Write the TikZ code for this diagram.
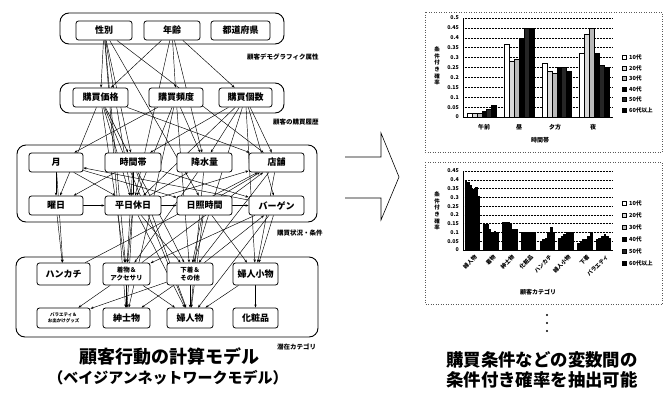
\documentclass[tikz,border=0pt]{standalone}
\usepackage{fontspec}
\setmainfont{Noto Sans CJK JP}
\usetikzlibrary{arrows.meta}
\pgfdeclarelayer{bg}
\pgfdeclarelayer{edges}
\pgfsetlayers{bg,edges,main}
\begin{document}
\begin{tikzpicture}[x=1pt,y=-1pt,
  grp/.style={draw, rounded corners=9pt, line width=0.9pt},
  nd/.style={draw, rounded corners=2.5pt, line width=0.8pt, fill=white,
    minimum width=55pt, minimum height=19pt, inner sep=0.5pt, align=center,
    font=\bfseries\fontsize{9}{10}\selectfont},
  ed/.style={-{Stealth[length=3.2pt,width=2.4pt]}, line width=0.45pt},
  glabel/.style={anchor=west, inner sep=0pt, font=\bfseries\fontsize{6.5}{7}\selectfont},
  tick/.style={anchor=east, inner sep=0pt, font=\bfseries\fontsize{5.3}{6}\selectfont},
  cat/.style={inner sep=0pt, font=\bfseries\fontsize{6}{7}\selectfont},
  leg/.style={anchor=west, inner sep=0pt, font=\bfseries\fontsize{5.6}{6}\selectfont},
  grid/.style={densely dotted, line width=0.5pt},
  frame/.style={dotted, line width=0.5pt, gray!70!black},
  s0/.style={fill=white, draw=black, line width=0.3pt},
  s1/.style={fill=gray!30, draw=black, line width=0.3pt},
  s2/.style={fill=gray!55, draw=black, line width=0.3pt},
  s3/.style={fill=black, draw=black, line width=0.3pt},
  s4/.style={fill=black!85, draw=black, line width=0.3pt},
  s5/.style={fill=black, draw=black, line width=0.3pt},
  title/.style={inner sep=0pt, font=\bfseries\fontsize{18}{20}\selectfont}
]
\useasboundingbox (0,0) rectangle (669,394);

% ---------------- groups ----------------
\begin{pgfonlayer}{bg}
\draw[grp] (60,13) rectangle (284,44);
\draw[grp] (60,83) rectangle (284,113);
\draw[grp] (17,145) rectangle (317,222);
\draw[grp] (16,257) rectangle (318,337);
\end{pgfonlayer}
\node[glabel] (L1) at (247,57) {顧客デモグラフィク属性};
\node[glabel] (L2) at (273,122) {顧客の購買履歴};
\node[glabel] (L3) at (277,233) {購買状況・条件};
\node[glabel] (L4) at (277,347) {潜在カテゴリ};

% ---------------- nodes ----------------
\node[nd, minimum width=56pt] (A1) at (104,30.5) {性別};
\node[nd, minimum width=56pt] (A2) at (172,30.5) {年齢};
\node[nd, minimum width=59pt] (A3) at (240.5,30.5) {都道府県};

\node[nd] (B1) at (100.5,97.5) {購買価格};
\node[nd, minimum width=54pt] (B2) at (176,97.5) {購買頻度};
\node[nd, minimum width=53pt] (B3) at (245.5,97.5) {購買個数};

\node[nd, minimum width=54pt] (C1) at (56,162.5) {月};
\node[nd, minimum width=56pt] (C2) at (133,162.5) {時間帯};
\node[nd, minimum width=55pt] (C3) at (204.5,162.5) {降水量};
\node[nd, minimum width=55pt] (C4) at (276.5,162.5) {店舗};
\node[nd, minimum width=54pt] (D1) at (56,205.5) {曜日};
\node[nd, minimum width=56pt] (D2) at (133,205.5) {平日休日};
\node[nd, minimum width=55pt] (D3) at (204.5,205.5) {日照時間};
\node[nd, minimum width=55pt] (D4) at (276.5,205.5) {バーゲン};

\node[nd, minimum width=53pt, minimum height=22pt] (E1) at (63.5,274) {ハンカチ};
\node[nd, minimum width=47pt, minimum height=22pt, font=\bfseries\fontsize{6.5}{8}\selectfont] (E2) at (126.5,274) {着物＆\\アクセサリ};
\node[nd, minimum width=46pt, minimum height=22pt, font=\bfseries\fontsize{6.5}{8}\selectfont] (E3) at (190,274) {下着＆\\その他};
\node[nd, minimum width=45pt, minimum height=22pt] (E4) at (255.5,274) {婦人小物};
\node[nd, minimum width=53pt, minimum height=20pt, font=\bfseries\fontsize{4.5}{6}\selectfont] (F1) at (63.5,318) {バラエティ＆\\お出かけグッズ};
\node[nd, minimum width=47pt, minimum height=20pt] (F2) at (126.5,318) {紳士物};
\node[nd, minimum width=46pt, minimum height=20pt] (F3) at (190,318) {婦人物};
\node[nd, minimum width=45pt, minimum height=20pt] (F4) at (255.5,318) {化粧品};

% ---------------- edges ----------------
\begin{pgfonlayer}{edges}
\foreach \s/\t in {A1/B1, A1/C2, A1/E2, A1/D2, A1/D3, A1/F2, A1/C4,
  A2/B1, A2/B2, A2/B3, A2/D2, A2/C3,
  B1/D1, B1/C2, B1/C4, B1/E2, B1/D2, B1/F3,
  B2/C3, B2/D2, B2/E3, B2/F2, B2/C1,
  B3/C3, B3/C4, B3/D4, B3/E4, B3/E3, B3/D2, B3/C2,
  C1/D1, C1/D2, C2/D1, D1/D2, D2/D3, D3/D4, C1/D3, D4/C1, C2/D2,
  D2/C3, D3/C4, C2/D4, D2/C4,
  D1/E1, C1/E1, D2/E2, D2/E3, D2/F2, D2/F3, C2/E2, C2/E3, C2/F3,
  C3/E2, C3/F3, D3/E3, D3/F3, D3/E4, C4/E4, C4/E3, D4/E4, D4/F3, D4/E2,
  E1/C4, E2/C4, E3/D4,
  E2/F1, E3/F1, E2/F2, E3/F3, E4/F4, E3/F2, E4/F3, E2/F3}
  \draw[ed] (\s) -- (\t);
\end{pgfonlayer}

% ---------------- titles ----------------
\node[title] (T1) at (169,357) {顧客行動の計算モデル};
\node[title, font=\bfseries\fontsize{15}{17}\selectfont] (T2) at (168,378) {（ベイジアンネットワークモデル）};
\node[title, font=\bfseries\fontsize{17.4}{19}\selectfont] (T3) at (542,360) {購買条件などの変数間の};
\node[title, font=\bfseries\fontsize{17.4}{19}\selectfont] (T4) at (542,380) {条件付き確率を抽出可能};

% ---------------- hollow arrow ----------------
\draw[line width=0.6pt, line join=miter] (345,157) -- (381,157) -- (381,133) -- (399,177) -- (381,220) -- (381,198) -- (345,198);

% ---------------- chart 1 ----------------
\draw[frame] (425,12) rectangle (662,152);
\foreach \k in {1,...,10} \draw[grid] (463,{117-9.9*\k}) -- (613,{117-9.9*\k});
\foreach \k/\lab in {0/0,1/0.05,2/0.1,3/0.15,4/0.2,5/0.25,6/0.3,7/0.35,8/0.4,9/0.45,10/0.5}
  \node[tick] at (459,{117-9.9*\k}) {\lab};
\foreach \g/\vals in {0/{.02,.02,.02,.03,.04,.06}, 1/{.37,.28,.29,.40,.45,.45},
    2/{.27,.23,.22,.25,.25,.23}, 3/{.32,.42,.45,.32,.26,.25}}{
  \foreach \v [count=\i from 0] in \vals {
    \pgfmathsetmacro\xl{463+37.5*\g+4+4.9*\i}
    \pgfmathsetmacro\hh{\v*198}
    \path[s\i] (\xl,117) rectangle ++(4.9,-\hh);
  }
}
\draw[line width=0.5pt] (463,18) -- (463,117) -- (613,117);
\node[cat] at (484,127) {午前};
\node[cat] at (519,127) {昼};
\node[cat] at (555,127) {夕方};
\node[cat] at (593,127) {夜};
\node[cat] at (540,140) {時間帯};
\node[cat, align=center, font=\bfseries\fontsize{5.5}{6.6}\selectfont] at (437,66) {条\\件\\付\\き\\確\\率};
\foreach \i/\lab/\yy in {0/10代/57,1/20代/68,2/30代/78,3/40代/89,4/50代/99,5/60代以上/110}{
  \path[s\i] (622,\yy-2) rectangle ++(4,4);
  \node[leg] at (629,\yy) {\lab};
}

% ---------------- chart 2 ----------------
\draw[frame] (425,162) rectangle (662,304);
\foreach \k in {1,...,9} \draw[grid] (463,{250-8.78*\k}) -- (613,{250-8.78*\k});
\foreach \k/\lab in {0/0,1/0.05,2/0.1,3/0.15,4/0.2,5/0.25,6/0.3,7/0.35,8/0.4,9/0.45}
  \node[tick] at (459,{250-8.78*\k}) {\lab};
\foreach \g/\vals in {0/{.40,.39,.37,.35,.36,.31}, 1/{.15,.15,.12,.10,.11,.10},
    2/{.16,.16,.16,.15,.12,.12}, 3/{.10,.10,.10,.10,.10,.10},
    4/{.05,.06,.07,.10,.13,.10}, 5/{.07,.08,.09,.10,.10,.10},
    6/{.04,.05,.06,.06,.08,.10}, 7/{.06,.07,.08,.09,.08,.07}}{
  \foreach \v [count=\i from 0] in \vals {
    \pgfmathsetmacro\xl{463+18.75*\g+1.5+2.6*\i}
    \pgfmathsetmacro\hh{\v*175.6}
    \fill[black] (\xl,250) rectangle ++(2.65,-\hh);
  }
}
\draw[line width=0.5pt] (463,171) -- (463,250) -- (613,250);
\foreach \g/\lab in {0/婦人物,1/着物,2/紳士物,3/化粧品,4/ハンカチ,5/婦人小物,6/下着,7/バラエティ}
  \node[cat, anchor=east, rotate=45, font=\bfseries\fontsize{5.5}{6}\selectfont] at ({463+18.75*\g+13},256) {\lab};
\node[cat] at (538,292) {顧客カテゴリ};
\node[cat, align=center, font=\bfseries\fontsize{5.5}{6.6}\selectfont] at (437,211) {条\\件\\付\\き\\確\\率};
\foreach \i/\lab/\yy in {0/10代/203,1/20代/215,2/30代/227,3/40代/239,4/50代/251,5/60代以上/263}{
  \path[s\i] (622,\yy-2) rectangle ++(4,4);
  \node[leg] at (629,\yy) {\lab};
}

% dots
\fill (547,315) circle (1.2) (547,323) circle (1.2) (547,331) circle (1.2);
\end{tikzpicture}
\end{document}
